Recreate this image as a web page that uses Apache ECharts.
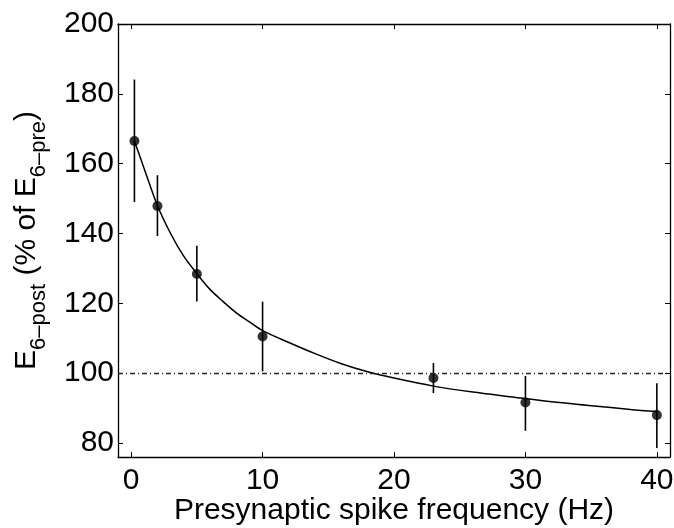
<!DOCTYPE html>
<html>
<head>
<meta charset="utf-8">
<script src="https://cdn.jsdelivr.net/npm/echarts@6/dist/echarts.min.js"></script>
<style>
  html, body { margin: 0; padding: 0; background: #fff; }
  #chart { width: 674px; height: 528px; }
</style>
</head>
<body>
<div id="chart"></div>
<script>
// measured points (mean with error bar ends)
var freq = [0.25, 2, 5, 10, 23, 30, 40];
var mean = [166.5, 147.9, 128.4, 110.5, 98.6, 91.6, 88.0];
var errHigh = [184.1, 156.7, 136.5, 120.5, 102.9, 99.2, 97.1];
var errLow = [149.0, 139.3, 120.5, 100.5, 94.3, 83.5, 78.6];

// fitted curve
var fitX = [0.25, 1, 2, 3, 4, 5, 6, 7, 8, 9, 10, 12, 14, 16, 18, 20, 23, 26, 29, 32, 35, 38, 40];
var fitY = [166.5, 158.5, 148, 140, 133.5, 128.5, 124, 120.5, 117.3, 114.7, 112.2, 108.8, 105.6, 102.7, 100.4, 98.6, 96.3, 94.6, 93.2, 91.8, 90.7, 89.6, 89.0];

var xTicks = [0, 10, 20, 30, 40];
var yTicks = [80, 100, 120, 140, 160, 180, 200];

var font = '"Liberation Sans", Arial, Helvetica, sans-serif';

var chart = echarts.init(document.getElementById('chart'));

var points = freq.map(function (f, i) { return [f, mean[i]]; });
var bars = freq.map(function (f, i) { return [f, errLow[i], errHigh[i]]; });
var fit = fitX.map(function (x, i) { return [x, fitY[i]]; });

var axisLine = { show: true, onZero: false, lineStyle: { color: '#000', width: 1.3 } };

chart.setOption({
  animation: false,
  grid: { left: 118, right: 4, top: 24, bottom: 71, outerBoundsMode: 'none' },
  xAxis: [{
    type: 'value',
    min: -1,
    max: 41,
    name: 'Presynaptic spike frequency (Hz)',
    nameLocation: 'middle',
    nameGap: 39,
    nameMoveOverlap: false,
    nameTextStyle: { fontFamily: font, fontSize: 30, color: '#000' },
    axisLine: axisLine,
    axisTick: { show: true, inside: true, length: 5, customValues: xTicks, lineStyle: { color: '#000' } },
    axisLabel: { customValues: xTicks, fontFamily: font, fontSize: 30, color: '#000', margin: 9 },
    splitLine: { show: false }
  }, {
    type: 'value',
    position: 'top',
    min: -1,
    max: 41,
    axisLine: axisLine,
    axisTick: { show: true, inside: true, length: 5, customValues: xTicks, lineStyle: { color: '#000' } },
    axisLabel: { show: false },
    splitLine: { show: false }
  }],
  yAxis: [{
    type: 'value',
    min: 76,
    max: 200,
    name: '{m|E}{s|6–post}{m| (% of E}{s|6–pre}{m|)}',
    nameLocation: 'middle',
    nameGap: 68,
    nameMoveOverlap: false,
    nameTextStyle: {
      color: '#000',
      rich: {
        m: { fontFamily: font, fontSize: 30, color: '#000' },
        s: { fontFamily: font, fontSize: 22, color: '#000', verticalAlign: 'bottom', lineHeight: 46 }
      }
    },
    axisLine: axisLine,
    axisTick: { show: true, inside: true, length: 5, customValues: yTicks, lineStyle: { color: '#000' } },
    axisLabel: { customValues: yTicks, fontFamily: font, fontSize: 30, color: '#000', margin: 4 },
    splitLine: { show: false }
  }, {
    type: 'value',
    position: 'right',
    min: 76,
    max: 200,
    axisLine: axisLine,
    axisTick: { show: true, inside: true, length: 5, customValues: yTicks, lineStyle: { color: '#000' } },
    axisLabel: { show: false },
    splitLine: { show: false }
  }],
  series: [{
    // fitted curve + reference line at 100%
    type: 'line',
    data: fit,
    smooth: 0.3,
    showSymbol: false,
    lineStyle: { color: '#000', width: 1.5 },
    markLine: {
      silent: true,
      symbol: 'none',
      label: { show: false },
      lineStyle: { color: '#222', width: 1.3, type: [5, 3, 1, 3] },
      data: [{ yAxis: 100 }]
    },
    z: 2
  }, {
    // error bars
    type: 'custom',
    data: bars,
    renderItem: function (params, api) {
      var lo = api.coord([api.value(0), api.value(1)]);
      var hi = api.coord([api.value(0), api.value(2)]);
      return {
        type: 'line',
        shape: { x1: lo[0], y1: lo[1], x2: hi[0], y2: hi[1] },
        style: { stroke: '#000', lineWidth: 1.6 }
      };
    },
    z: 3
  }, {
    type: 'scatter',
    data: points,
    symbol: 'circle',
    symbolSize: 10,
    itemStyle: { color: '#000' },
    z: 4
  }]
});
</script>
</body>
</html>
